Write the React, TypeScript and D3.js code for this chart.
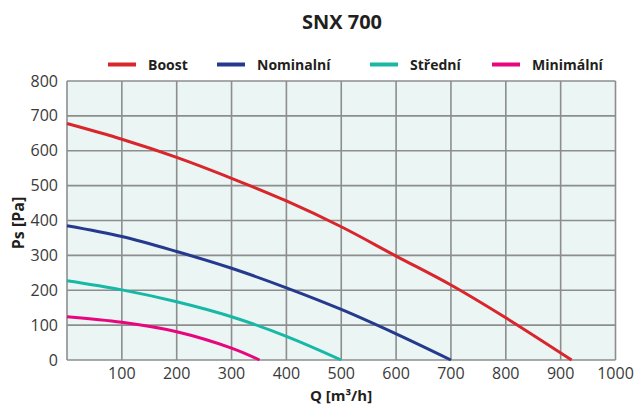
import React from "react";
import * as d3 from "d3";

const title = "SNX 700";
const xLabel = "Q [m³/h]";
const yLabel = "Ps [Pa]";
const xTicks = [100, 200, 300, 400, 500, 600, 700, 800, 900, 1000];
const yTicks = [0, 100, 200, 300, 400, 500, 600, 700, 800];
const xGrid = [0, 100, 200, 300, 400, 500, 600, 700, 800, 900, 1000];

const seriesNames = ["Boost", "Nominalní", "Střední", "Minimální"];
const seriesColors = ["#d8262c", "#253a8e", "#17b8a6", "#e8067f"];

const boostQ = [0, 100, 200, 300, 400, 500, 600, 700, 800, 920];
const boostP = [678, 633, 581, 521, 456, 382, 298, 215, 121, 0];
const nominalQ = [0, 100, 200, 300, 400, 500, 600, 700];
const nominalP = [385, 354, 311, 263, 207, 145, 75, 0];
const stredniQ = [0, 100, 200, 300, 400, 500];
const stredniP = [227, 201, 167, 124, 68, 0];
const minimalQ = [0, 100, 200, 300, 351];
const minimalP = [124, 108, 81, 34, 0];

const seriesQ = [boostQ, nominalQ, stredniQ, minimalQ];
const seriesP = [boostP, nominalP, stredniP, minimalP];

const legendLineX = [108, 217, 370, 492];

export default function App() {
  const W = 635;
  const H = 405;
  const left = 67;
  const right = 615.5;
  const top = 81;
  const bottom = 360;
  const x = d3.scaleLinear().domain([0, 1000]).range([left, right]);
  const y = d3.scaleLinear().domain([0, 800]).range([bottom, top]);
  const line = d3
    .line<[number, number]>()
    .x((d) => x(d[0]))
    .y((d) => y(d[1]))
    .curve(d3.curveCatmullRom.alpha(0.5));
  const font = "'Open Sans', sans-serif";
  const gridColor = "#8c8e8e";

  return (
    <svg
      width={W}
      height={H}
      style={{ position: "absolute", left: 0, top: 0, display: "block" }}
      fontFamily={font}
    >
      <rect x={0} y={0} width={W} height={H} fill="#ffffff" />
      <text x={342} y={29} textAnchor="middle" fontSize={20} fontWeight={700} fill="#231f20">
        {title}
      </text>
      {seriesNames.map((n, i) => (
        <g key={n}>
          <line
            x1={legendLineX[i]}
            x2={legendLineX[i] + 28}
            y1={64.5}
            y2={64.5}
            stroke={seriesColors[i]}
            strokeWidth={4}
          />
          <text x={legendLineX[i] + 40} y={69.5} fontSize={14} fontWeight={700} fill="#231f20">
            {n}
          </text>
        </g>
      ))}
      <rect x={left} y={top} width={right - left} height={bottom - top} fill="#ebf5f3" />
      {yTicks.map((t) => (
        <line
          key={"gy" + t}
          x1={left}
          x2={right}
          y1={y(t)}
          y2={y(t)}
          stroke={gridColor}
          strokeWidth={1.6}
        />
      ))}
      {xGrid.map((t) => (
        <line
          key={"gx" + t}
          x1={x(t)}
          x2={x(t)}
          y1={top}
          y2={bottom}
          stroke={gridColor}
          strokeWidth={1.6}
        />
      ))}
      {seriesNames.map((n, i) => (
        <path
          key={"s" + n}
          d={line(seriesQ[i].map((q, j) => [q, seriesP[i][j]] as [number, number])) || ""}
          fill="none"
          stroke={seriesColors[i]}
          strokeWidth={3}
          strokeLinecap="butt"
        />
      ))}
      {yTicks.map((t) => (
        <text
          key={"ty" + t}
          x={58}
          y={y(t) + 5.5}
          textAnchor="end"
          fontSize={16}
          fill="#3a3a3a"
        >
          {t}
        </text>
      ))}
      {xTicks.map((t) => (
        <text
          key={"tx" + t}
          x={x(t)}
          y={379}
          textAnchor="middle"
          fontSize={16}
          fill="#3a3a3a"
        >
          {t}
        </text>
      ))}
      <text x={341} y={401} textAnchor="middle" fontSize={15} fontWeight={700} fill="#231f20">
        {xLabel}
      </text>
      <text
        transform={`translate(24,223) rotate(-90)`}
        textAnchor="middle"
        fontSize={16}
        fontWeight={700}
        fill="#231f20"
      >
        {yLabel}
      </text>
    </svg>
  );
}
